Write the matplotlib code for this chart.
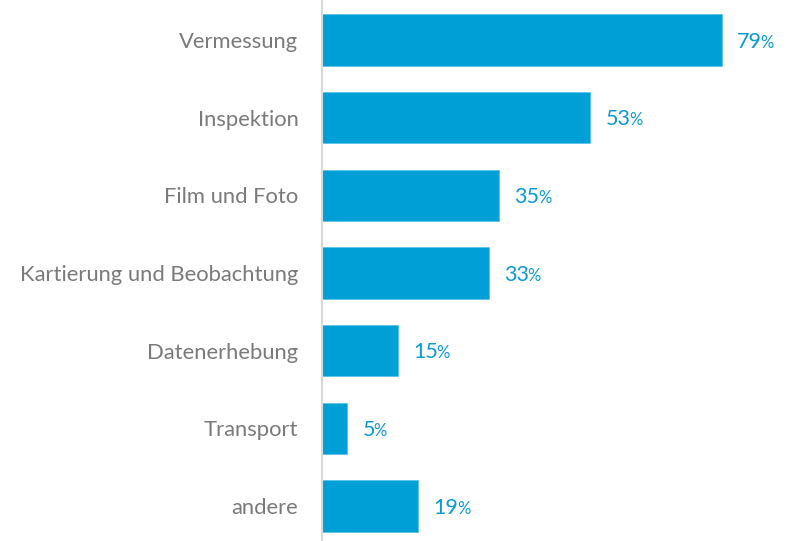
import matplotlib.pyplot as plt

# Anwendungsbereiche (Anteil in %)
categories = ['Vermessung', 'Inspektion', 'Film und Foto', 'Kartierung und Beobachtung',
              'Datenerhebung', 'Transport', 'andere']
values = [79, 53, 35, 33, 15, 5, 19]

bar_color = '#009fd6'
label_color = '#7a7a7a'
value_color = '#0a9ad4'

plt.rcParams['font.family'] = ['Lato', 'DejaVu Sans']

fig = plt.figure(figsize=(7.9, 5.41), dpi=100)
ax = fig.add_axes([322 / 790, 0, 1 - 322 / 790, 1])

pos = list(range(len(categories)))
ax.barh(pos, values, height=0.66, color=bar_color, edgecolor='#5cc3ea', linewidth=0.6)

ax.set_xlim(0, 92.5)
ax.set_ylim(6.45, -0.515)

ax.set_yticks(pos)
ax.set_yticklabels(categories, fontsize=15.8, color=label_color)
ax.tick_params(axis='y', length=0, pad=17)
ax.set_xticks([])

for s in ['top', 'right', 'bottom']:
    ax.spines[s].set_visible(False)
ax.spines['left'].set_color('#d9d9d9')
ax.spines['left'].set_linewidth(1.5)

# value labels: number followed by a smaller % sign on the same baseline
fig.canvas.draw()
renderer = fig.canvas.get_renderer()
for i, v in enumerate(values):
    t = ax.annotate(str(v), xy=(v, i + 0.1), xytext=(11, 0), textcoords='offset points',
                    va='baseline', ha='left', fontsize=15.5, color=value_color)
    bb = t.get_window_extent(renderer)
    ax.annotate('%', xy=(bb.x1 - 1.5, i + 0.1), xycoords=('figure pixels', 'data'),
                va='baseline', ha='left', fontsize=12, color=value_color,
                annotation_clip=False)

fig.savefig('out.png', dpi=100)
